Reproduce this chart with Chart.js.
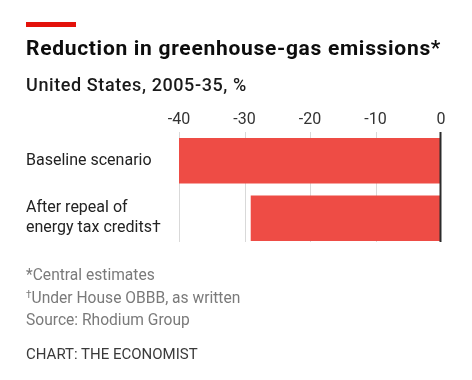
<!DOCTYPE html>
<html>
<head>
<meta charset="utf-8">
<script src="https://cdn.jsdelivr.net/npm/chart.js@4"></script>
<style>
  html, body { margin: 0; padding: 0; background: #ffffff; }
  #wrap { position: relative; width: 472px; height: 380px; overflow: hidden; font-family: Roboto, "Liberation Sans", sans-serif; }
  #cv { position: absolute; left: 0; top: 0; }
  .t { position: absolute; left: 26px; white-space: nowrap; }
  #redbar { position: absolute; left: 26px; top: 22px; width: 50px; height: 5px; background: #e3120b; }
  #title { top: 37.5px; font-size: 21px; line-height: 21px; font-weight: 700; color: #0d0d0d; letter-spacing: 0.7px; }
  #subtitle { top: 76px; font-size: 18px; line-height: 18px; font-weight: 500; color: #1a1a1a; letter-spacing: 0.6px; }
  #notes { top: 264px; font-size: 15.6px; line-height: 22.7px; color: #7a7a7a; }
  #notes sup { font-size: 10px; line-height: 0; vertical-align: 5px; }
  #credit { top: 345.5px; font-size: 15px; line-height: 17px; color: #3a3a3a; }
</style>
</head>
<body>
<div id="wrap">
  <canvas id="cv" width="472" height="380"></canvas>
  <div id="redbar"></div>
  <div class="t" id="title">Reduction in greenhouse-gas emissions*</div>
  <div class="t" id="subtitle">United States, 2005-35, %</div>
  <div class="t" id="notes">*Central estimates<br><sup>†</sup>Under House OBBB, as written<br>Source: Rhodium Group</div>
  <div class="t" id="credit">CHART: THE ECONOMIST</div>
</div>
<script>
// Data
const categories = ['Baseline scenario', ['After repeal of', 'energy tax credits†']];
const reductionValues = [-40, -29];
const xTickValues = [-40, -30, -20, -10, 0];

const gridPlugin = {
  id: 'customGrid',
  beforeDatasetsDraw(chart) {
    const { ctx, chartArea, scales } = chart;
    const xs = scales.x;
    ctx.save();
    xTickValues.forEach(v => {
      const px = Math.round(xs.getPixelForValue(v)) + 0.5;
      if (v === 0) return;
      ctx.strokeStyle = '#d9d9d9';
      ctx.lineWidth = 1;
      ctx.beginPath();
      ctx.moveTo(px, chartArea.top);
      ctx.lineTo(px, chartArea.bottom - 5);
      ctx.stroke();
    });
    ctx.restore();
  },
  afterDatasetsDraw(chart) {
    const { ctx, chartArea, scales } = chart;
    const px = scales.x.getPixelForValue(0);
    ctx.save();
    ctx.strokeStyle = '#2b2b2b';
    ctx.lineWidth = 2;
    ctx.beginPath();
    ctx.moveTo(px - 0.5, chartArea.top);
    ctx.lineTo(px - 0.5, chartArea.bottom - 5);
    ctx.stroke();
    ctx.restore();
  }
};

new Chart(document.getElementById('cv'), {
  type: 'bar',
  data: {
    labels: categories,
    datasets: [{
      data: reductionValues,
      backgroundColor: '#ee4c45',
      borderWidth: 0,
      barThickness: 45
    }]
  },
  options: {
    indexAxis: 'y',
    responsive: false,
    animation: false,
    events: [],
    layout: { padding: { left: 26, right: 31, top: 100, bottom: 133 } },
    plugins: { legend: { display: false }, tooltip: { enabled: false }, title: { display: false } },
    scales: {
      x: {
        position: 'top',
        min: -40,
        max: 0,
        afterBuildTicks(scale) { scale.ticks = xTickValues.map(v => ({ value: v })); },
        afterFit(scale) { scale.height = 32; },
        grid: { display: false, drawTicks: false },
        border: { display: false },
        ticks: {
          padding: 2,
          color: '#333333',
          font: { family: 'Roboto', size: 16 },
          maxRotation: 0,
          callback: v => String(v)
        }
      },
      y: {
        afterFit(scale) { scale.width = 153; },
        grid: { display: false, drawTicks: false },
        border: { display: false },
        ticks: {
          crossAlign: 'far',
          color: '#222222',
          font: { family: 'Roboto', size: 16, lineHeight: 1.23 }
        }
      }
    }
  },
  plugins: [gridPlugin]
});
</script>
</body>
</html>
